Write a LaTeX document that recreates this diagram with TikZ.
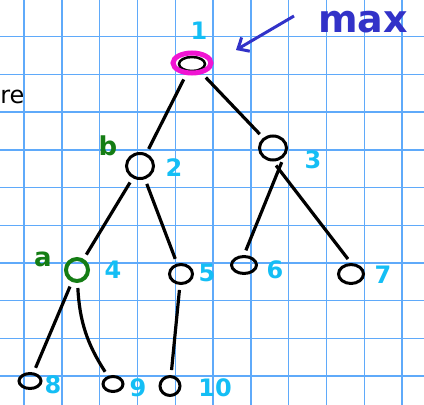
\documentclass[tikz,border=0pt]{standalone}
\usepackage{fontspec}
\setmainfont{DejaVu Sans}
\usepackage{tikz}
\usetikzlibrary{shapes.geometric,arrows.meta}
\definecolor{gridblue}{RGB}{95,170,250}
\definecolor{numblue}{RGB}{20,190,245}
\definecolor{notegreen}{RGB}{20,125,20}
\definecolor{rootpink}{RGB}{240,20,210}
\definecolor{maxblue}{RGB}{50,50,200}

\begin{document}
\begin{tikzpicture}[x=1pt, y=-1pt,
    vtx/.style={draw, ellipse, line width=3pt, inner sep=0pt},
    num/.style={text=numblue, font=\fontsize{24}{24}\selectfont\bfseries},
    note/.style={text=notegreen, font=\fontsize{26}{26}\selectfont\bfseries},
    branch/.style={line width=3.2pt, shorten <=5pt, shorten >=5pt}]
                \fill[white] (0,0) rectangle (424,405);
                \useasboundingbox (0,0) rectangle (424,405);
                % grid paper
                \foreach \gx in {0,...,10}
                    \draw[gridblue, line width=1.4pt] ({24+37.8*\gx},0) -- ({24+37.8*\gx},405);
                \foreach \gy in {0,...,9}
                    \draw[gridblue, line width=1.4pt] (0,{36.7+37.7*\gy}) -- (424,{36.7+37.7*\gy});
                % nodes
                \draw[line width=2.5pt] (192,64) ellipse (13pt and 7pt);
                \node[vtx, draw=rootpink, line width=5pt, minimum width=38pt, minimum height=20pt] (n1) at (192,63) {};
                \node[vtx, minimum width=27pt, minimum height=25pt] (n2) at (140,166) {};
                \node[vtx, minimum width=27pt, minimum height=24pt] (n3) at (273,148) {};
                \node[vtx, draw=notegreen, line width=4pt, minimum width=22pt, minimum height=22pt] (n4) at (77,270) {};
                \node[vtx, minimum width=23pt, minimum height=19pt] (n5) at (181,274) {};
                \node[vtx, minimum width=25pt, minimum height=17pt] (n6) at (244,265) {};
                \node[vtx, minimum width=25pt, minimum height=19pt] (n7) at (351,274) {};
                \node[vtx, minimum width=22pt, minimum height=15pt] (n8) at (30,381) {};
                \node[vtx, minimum width=20pt, minimum height=15pt] (n9) at (113,384) {};
                \node[vtx, minimum width=20pt, minimum height=19pt] (n10) at (170,386) {};
                % numbers
                \node[num] (l1) at (199,31) {1};
                \node[num] (l2) at (174,168) {2};
                \node[num] (l3) at (313,160) {3};
                \node[num] (l4) at (113,270) {4};
                \node[num] (l5) at (207,273) {5};
                \node[num] (l6) at (275,270) {6};
                \node[num] (l7) at (383,275) {7};
                \node[num] (l8) at (53,385) {8};
                \node[num] (l9) at (138,388) {9};
                \node[num] (l10) at (215,388) {10};
                \node[note] (b) at (108,146) {b};
                \node[note] (a) at (43,259) {a};
                \node[font=\fontsize{24}{24}\selectfont, anchor=east] (re) at (28,97) {re};
                \node[text=maxblue, font=\fontsize{38}{38}\selectfont\bfseries] (max) at (363,22) {max};
                \coordinate (maxtail) at (294,16);
                \coordinate (maxtip) at (236,50);
                % branches
                \draw[branch] (n1) -- (n2);
                \draw[branch] (n1) -- (n3);
                \draw[branch] (n2) -- (n4);
                \draw[branch] (n2) -- (n5);
                \draw[branch] (n3.south east) -- (n6.north);
                \draw[branch] (n3.south) -- (n7.north);
                \draw[branch] (n4) -- (n8);
                \draw[branch] (n4) to[bend right=15] (n9);
                \draw[branch] (n5) -- (n10);
                \draw[maxblue, line width=3pt, -{Straight Barb[length=9pt,width=16pt]}] (maxtail) -- (maxtip);
            \end{tikzpicture}
\end{document}
